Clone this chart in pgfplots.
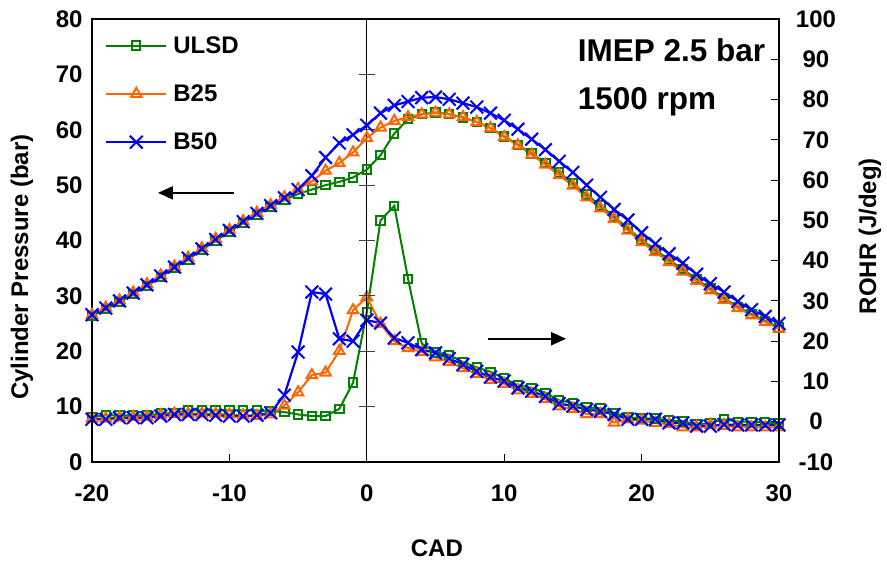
\documentclass[border=0pt]{standalone}
\usepackage{fontspec}
\setmainfont{Liberation Sans}
\usepackage{pgfplots}
\usepackage{pgfplotstable}
\pgfplotsset{compat=1.18}
\usetikzlibrary{arrows.meta}
\definecolor{cgreen}{RGB}{0,128,0}
\definecolor{corange}{RGB}{255,102,0}
\definecolor{cblue}{RGB}{0,0,255}
\newcommand{\tf}{\bfseries\fontsize{24}{28}\selectfont}
\newcommand{\bigf}{\bfseries\fontsize{31.5}{36}\selectfont}

\pgfplotstableread{
x PU PA PB RU RA RB
-20 26.4 26.6 26.6 1.2 0.8 0.6
-19 27.6 27.9 27.8 1.6 0.8 0.6
-18 28.9 29.2 29.1 1.6 1.0 1.0
-17 30.3 30.6 30.5 1.6 1.2 1.0
-16 31.8 32.1 32.0 1.6 1.2 1.0
-15 33.4 33.7 33.6 2.0 1.6 1.4
-14 35.0 35.3 35.2 2.2 2.0 1.8
-13 36.6 36.9 36.8 2.8 2.0 1.8
-12 38.3 38.6 38.5 2.8 2.0 1.8
-11 40.0 40.3 40.2 2.8 2.0 1.6
-10 41.6 41.9 41.8 2.8 1.8 1.4
-9 43.2 43.5 43.4 2.8 1.6 1.4
-8 44.7 45.0 44.9 2.8 1.4 1.6
-7 46.0 46.4 46.3 2.6 1.8 2.2
-6 47.3 47.8 47.7 2.4 4.0 6.6
-5 48.4 49.3 49.2 1.8 7.3 17.3
-4 49.2 50.7 51.7 1.4 11.6 32.2
-3 50.0 52.6 55.0 1.4 12.2 31.7
-2 50.6 54.0 57.6 3.2 17.6 20.6
-1 51.4 55.9 59.1 9.7 27.7 20.0
0 52.8 58.5 60.8 27.2 30.9 25.2
1 55.4 60.4 63.0 50.0 24.3 24.5
2 59.3 61.6 64.4 53.6 20.0 20.8
3 61.9 62.3 65.1 35.5 18.3 19.6
4 62.8 62.8 65.8 19.4 17.3 17.9
5 63.1 63.1 65.9 17.2 16.0 17.1
6 62.8 62.8 65.5 16.6 14.8 15.7
7 62.2 62.3 64.8 14.8 13.3 14.2
8 61.4 61.4 64.1 13.5 11.8 12.5
9 60.3 60.3 63.0 12.4 10.4 11.1
10 58.8 58.7 61.7 10.8 9.4 10.1
11 57.3 57.2 60.1 9.0 7.8 8.4
12 55.7 55.5 58.3 8.4 6.9 7.6
13 54.0 53.7 56.4 7.2 5.6 6.3
14 52.3 51.8 54.3 5.3 3.8 4.5
15 50.3 49.9 52.3 4.7 3.1 3.9
16 48.3 47.8 50.0 3.6 1.9 3.0
17 46.3 45.8 47.8 3.3 1.9 2.6
18 44.3 43.9 45.6 2.2 -0.2 1.8
19 42.2 41.8 43.7 1.1 0.6 0.6
20 40.1 39.7 41.4 0.8 0.3 0.6
21 38.3 37.9 39.4 0.8 -0.3 0.6
22 36.5 36.1 37.6 0.3 -0.6 -0.3
23 34.8 34.4 35.9 0.1 -1.4 -0.3
24 33.0 32.7 33.9 -0.7 -1.4 -1.1
25 31.3 31.0 32.2 -0.3 -0.8 -1.1
26 29.6 29.3 30.7 0.6 -1.0 -0.7
27 28.0 27.8 29.0 0.0 -1.4 -0.8
28 26.7 26.5 27.5 0.0 -1.4 -0.8
29 25.5 25.3 26.3 -0.2 -1.4 -0.8
30 24.3 24.1 25.0 -0.4 -1.4 -0.8
}\data

\pgfplotsset{
  every axis/.append style={
    at={(92pt,104pt)}, anchor=south west,
    scale only axis, width=687pt, height=443pt,
    xmin=-20, xmax=30,
  },
  sU/.style={color=cgreen, line width=2pt, mark=square, mark size=4.2pt, mark options={solid, line width=2pt}},
  sA/.style={color=corange, line width=2pt, mark=triangle, mark size=6pt, mark options={solid, line width=2pt}},
  sB/.style={color=cblue, line width=2.2pt, mark=x, mark size=9pt, mark options={solid, line width=2pt}},
}

\begin{document}
\begin{tikzpicture}
\useasboundingbox (0,0) rectangle (887pt,566pt);
% ROHR axis (right)
\begin{axis}[
  ymin=-10, ymax=100,
  axis x line=none, axis y line*=right,
  ytick={-10,0,...,100},
  yticklabels={-10,0,10,20,30,40,50,60,70,80,90,100},
  tick align=inside, major tick length=8pt,
  ytick style={line width=1pt, black},
  axis line style={line width=1.8pt},
  yticklabel style={font=\tf, anchor=center, xshift=37pt},
  ylabel={ROHR (J/deg)},
  every axis y label/.style={at={(axis description cs:1.1325,0.51)}, rotate=90, anchor=center, font=\tf},
]
\addplot[sU] table[x=x, y=RU] {\data};
\addplot[sA] table[x=x, y=RA] {\data};
\addplot[sB] table[x=x, y=RB] {\data};
\draw[line width=2pt, -{Triangle[length=15pt,width=13pt]}] (axis cs:8.8,20.6) -- (axis cs:14.5,20.6);
\end{axis}
% centre axis line at x=0
\begin{axis}[
  ymin=0, ymax=80,
  axis x line=none, axis y line=center,
  ytick={10,20,...,80}, yticklabels={},
  xtick=\empty,
  tick align=center, major tick length=16pt,
  ytick style={line width=1pt, black!75},
  axis line style={line width=1pt, -},
]
\end{axis}
% pressure axis (left)
\begin{axis}[
  ymin=0, ymax=80,
  xtick={-20,-10,...,30}, xticklabels={-20,-10,0,10,20,30},
  ytick={0,10,...,80}, yticklabels={0,10,20,30,40,50,60,70,80},
  xtick pos=bottom, ytick style={draw=none},
  tick align=inside, major tick length=8pt,
  xtick style={line width=1pt, black},
  axis line style={line width=1.8pt},
  xticklabel style={font=\tf, yshift=-19pt},
  yticklabel style={font=\tf, xshift=-6pt},
  xlabel={CAD},
  every axis x label/.style={at={(axis description cs:0.502,-0.194)}, anchor=center, font=\tf},
  ylabel={Cylinder Pressure (bar)},
  every axis y label/.style={at={(axis description cs:-0.102,0.44)}, rotate=90, anchor=center, font=\tf},
  legend style={at={(axis description cs:0.016,0.97)}, anchor=north west, draw=none, fill=none, font=\tf, row sep=26pt, inner sep=2pt, nodes={inner xsep=6pt}},
  legend cell align=left,
  legend image code/.code={\draw[mark repeat=2, mark phase=2, #1] plot coordinates {(0pt,0pt) (30pt,0pt) (60pt,0pt)};},
]
\addplot[sU] table[x=x, y=PU] {\data};
\addplot[sA] table[x=x, y=PA] {\data};
\addplot[sB] table[x=x, y=PB] {\data};
\legend{ULSD,B25,B50}
\draw[line width=2pt, -{Triangle[length=15pt,width=13pt]}] (axis cs:-9.7,48.6) -- (axis cs:-15.2,48.6);
\node[anchor=base west, font=\bigf] at (axis cs:15.1,72.3) {IMEP 2.5 bar};
\node[anchor=base west, font=\bigf] at (axis cs:15.1,63.7) {1500 rpm};
\end{axis}
\end{tikzpicture}
\end{document}
